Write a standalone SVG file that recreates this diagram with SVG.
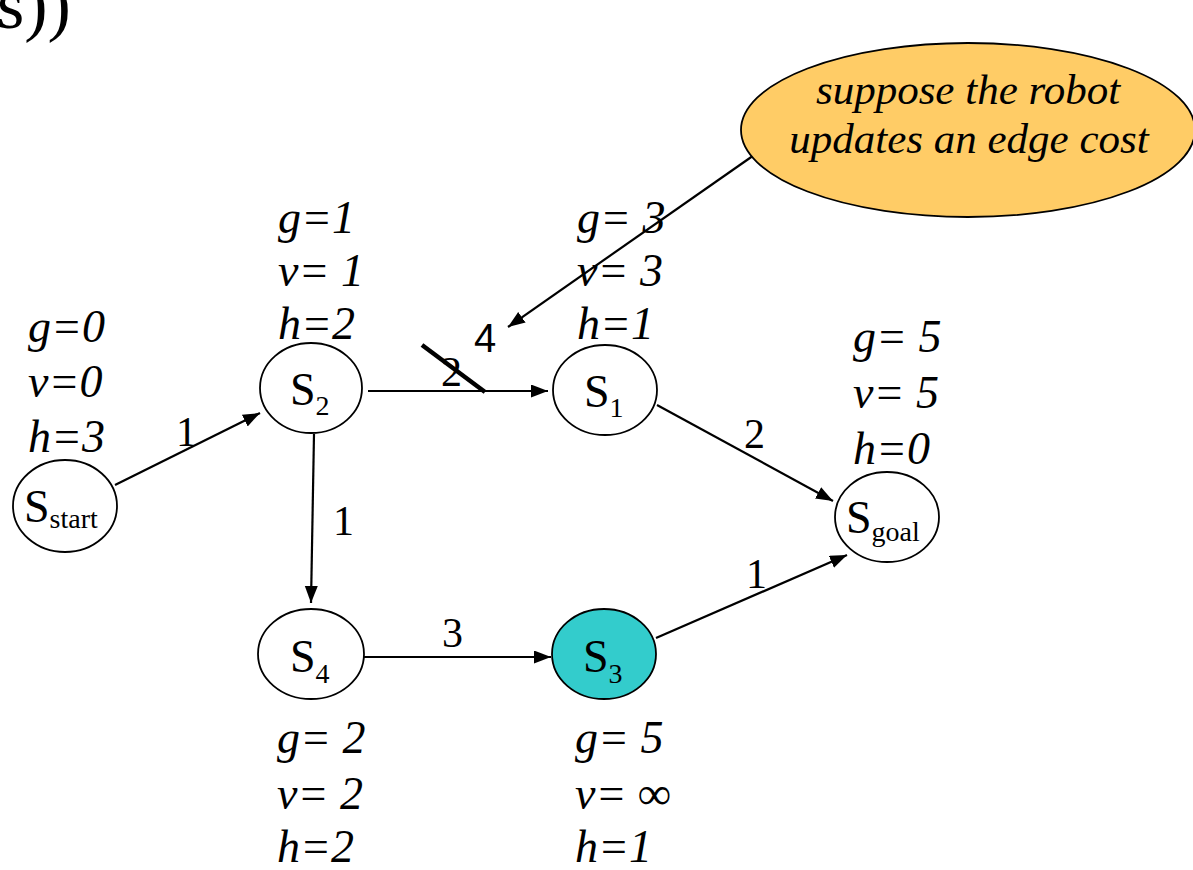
<svg xmlns="http://www.w3.org/2000/svg" width="1193" height="870" viewBox="0 0 1193 870">
  <style>
    .node { fill: #ffffff; stroke: #000000; stroke-width: 1.8; }
    .open { fill: #33cccc; }
    .edge { stroke: #000000; stroke-width: 2.2; fill: none; marker-end: url(#arrow); }
    .serif { font-family: "Liberation Serif", "Times New Roman", Times, serif; fill: #000; }
    .nm { font-size: 46px; }
    .sub { font-size: 28px; }
    .val { font-size: 46px; font-style: italic; }
    .cost { font-size: 42px; }
    .note { font-size: 43px; text-anchor: middle; font-style: italic; }
  </style>
  <defs>
    <marker id="arrow" markerUnits="userSpaceOnUse" markerWidth="18" markerHeight="14" refX="17" refY="6.5" orient="auto">
      <path d="M0,0 L17,6.5 L0,13 z" fill="#000"/>
    </marker>
  </defs>

  <rect width="1193" height="870" fill="#ffffff"/>

  <!-- heading fragment at top-left -->
  <text class="serif" x="-3" y="28" font-size="70">s))</text>

  <!-- connectors -->
  <g id="connectors">
    <line class="edge" x1="115" y1="485" x2="260" y2="413"/>
    <line class="edge" x1="368" y1="391" x2="548" y2="391"/>
    <line class="edge" x1="314" y1="434" x2="311" y2="603"/>
    <line class="edge" x1="657" y1="405" x2="833" y2="501"/>
    <line class="edge" x1="364" y1="657" x2="551" y2="657"/>
    <line class="edge" x1="656" y1="638" x2="847" y2="555"/>
    <line class="edge" x1="757" y1="153" x2="508" y2="327"/>
    <text class="serif cost" x="176" y="446">1</text>
    <text class="serif cost" x="441" y="386">2</text>
    <line x1="422" y1="345" x2="485" y2="392" stroke="#000" stroke-width="4.5"/>
    <text x="474" y="352" font-family="Liberation Sans, Arial, sans-serif" font-size="40" fill="#000">4</text>
    <text class="serif cost" x="333" y="535">1</text>
    <text class="serif cost" x="744" y="448">2</text>
    <text class="serif cost" x="442" y="647">3</text>
    <text class="serif cost" x="746" y="588">1</text>
  </g>

  <!-- callout -->
  <g id="callout">
    <ellipse cx="968" cy="130" rx="227" ry="87" fill="#ffcc66" stroke="#000" stroke-width="1.8"/>
    <text class="serif note" x="968" y="104">suppose the robot</text>
    <text class="serif note" x="969" y="153">updates an edge cost</text>
  </g>

  <g id="s-start">
    <ellipse class="node" cx="65" cy="506" rx="52" ry="46"/>
    <text class="serif nm" x="24" y="522">S<tspan class="sub" dy="6">start</tspan></text>
    <text class="serif val" x="28" y="342">g=0</text>
    <text class="serif val" x="28" y="397">v=0</text>
    <text class="serif val" x="28" y="452">h=3</text>
  </g>

  <g id="s2">
    <ellipse class="node" cx="311" cy="388" rx="51" ry="45"/>
    <text class="serif nm" x="290" y="405">S<tspan class="sub" dy="10">2</tspan></text>
    <text class="serif val" x="278" y="233">g=1</text>
    <text class="serif val" x="278" y="286">v= 1</text>
    <text class="serif val" x="278" y="339">h=2</text>
  </g>

  <g id="s1">
    <ellipse class="node" cx="605" cy="390" rx="52" ry="45"/>
    <text class="serif nm" x="584" y="407">S<tspan class="sub" dy="10">1</tspan></text>
    <text class="serif val" x="577" y="233">g= 3</text>
    <text class="serif val" x="577" y="286">v= 3</text>
    <text class="serif val" x="577" y="339">h=1</text>
  </g>

  <g id="s-goal">
    <ellipse class="node" cx="887" cy="517" rx="52" ry="45"/>
    <text class="serif nm" x="846" y="533">S<tspan class="sub" dy="8">goal</tspan></text>
    <text class="serif val" x="853" y="352">g= 5</text>
    <text class="serif val" x="853" y="408">v= 5</text>
    <text class="serif val" x="853" y="464">h=0</text>
  </g>

  <g id="s4">
    <ellipse class="node" cx="311" cy="654" rx="53" ry="45"/>
    <text class="serif nm" x="290" y="672">S<tspan class="sub" dy="11">4</tspan></text>
    <text class="serif val" x="277" y="753">g= 2</text>
    <text class="serif val" x="277" y="809">v= 2</text>
    <text class="serif val" x="277" y="862">h=2</text>
  </g>

  <g id="s3">
    <ellipse class="node open" cx="604" cy="654" rx="52" ry="45"/>
    <text class="serif nm" x="583" y="672">S<tspan class="sub" dy="11">3</tspan></text>
    <text class="serif val" x="575" y="753">g= 5</text>
    <text class="serif val" x="575" y="809">v= ∞</text>
    <text class="serif val" x="575" y="862">h=1</text>
  </g>
</svg>
